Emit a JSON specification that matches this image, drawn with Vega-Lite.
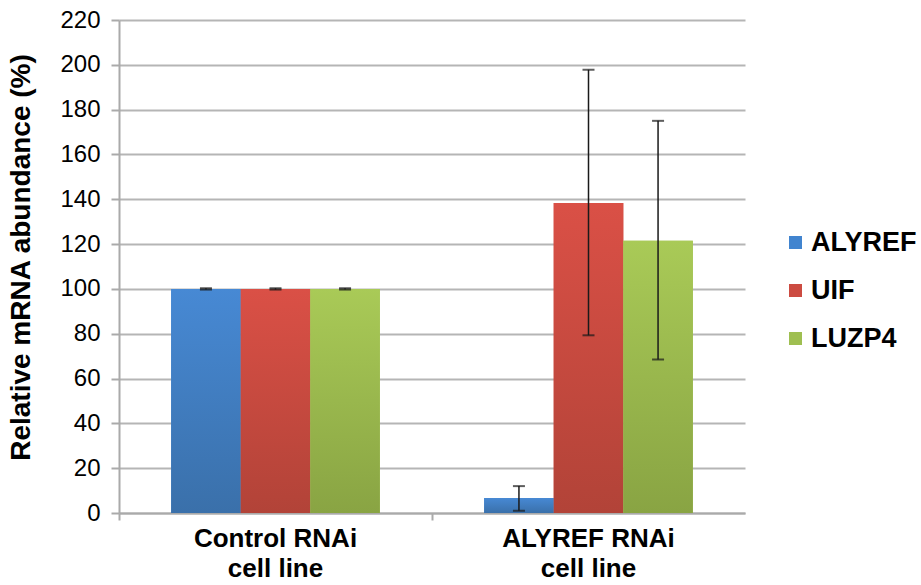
{
  "$schema": "https://vega.github.io/schema/vega-lite/v6.json",
  "autosize": "none",
  "width": 626,
  "height": 493,
  "padding": {"left": 119, "top": 20, "right": 176, "bottom": 72},
  "background": "white",
  "config": {
    "font": "Liberation Sans",
    "view": {"stroke": null}
  },
  "data": {
    "values": [
      {"group": "Control RNAi", "gene": "ALYREF", "value": 100, "lo": 99.7, "hi": 100.3},
      {"group": "Control RNAi", "gene": "UIF", "value": 100, "lo": 99.7, "hi": 100.3},
      {"group": "Control RNAi", "gene": "LUZP4", "value": 100, "lo": 99.7, "hi": 100.3},
      {"group": "ALYREF RNAi", "gene": "ALYREF", "value": 6.7, "lo": 1, "hi": 12},
      {"group": "ALYREF RNAi", "gene": "UIF", "value": 138.3, "lo": 79.3, "hi": 197.8},
      {"group": "ALYREF RNAi", "gene": "LUZP4", "value": 121.5, "lo": 68.5, "hi": 175}
    ]
  },
  "encoding": {
    "x": {
      "field": "group",
      "type": "nominal",
      "sort": ["Control RNAi", "ALYREF RNAi"],
      "scale": {"paddingInner": 0, "paddingOuter": 0},
      "axis": {
        "title": null,
        "labelAngle": 0,
        "labelFont": "Liberation Sans",
        "labelFontSize": 26,
        "labelFontWeight": "bold",
        "labelColor": "#000000",
        "labelExpr": "[datum.label, 'cell line']",
        "labelLineHeight": 30,
        "labelPadding": 5,
        "bandPosition": 0,
        "ticks": true,
        "tickSize": 7,
        "tickColor": "#aaaaaa",
        "tickWidth": 2,
        "domainColor": "#aaaaaa",
        "domainWidth": 2,
        "grid": false
      }
    },
    "xOffset": {
      "field": "gene",
      "type": "nominal",
      "sort": ["ALYREF", "UIF", "LUZP4"],
      "scale": {"paddingInner": 0, "paddingOuter": 0.75}
    }
  },
  "layer": [
    {
      "mark": {"type": "bar"},
      "encoding": {
        "y": {
          "field": "value",
          "type": "quantitative",
          "scale": {"domain": [0, 220], "nice": false},
          "axis": {
            "title": "Relative mRNA abundance (%)",
            "titleFont": "Liberation Sans",
            "titleFontSize": 28,
            "titleFontWeight": "bold",
            "titleColor": "#000000",
            "titlePadding": 24,
            "titleY": 237,
            "values": [0, 20, 40, 60, 80, 100, 120, 140, 160, 180, 200, 220],
            "labelFont": "Liberation Sans",
            "labelFontSize": 24,
            "labelColor": "#000000",
            "labelPadding": 11,
            "tickSize": 8,
            "tickColor": "#aaaaaa",
            "tickWidth": 2,
            "domainColor": "#aaaaaa",
            "domainWidth": 2,
            "grid": true,
            "gridColor": "#b5b5b5",
            "gridWidth": 2
          }
        },
        "color": {
          "field": "gene",
          "type": "nominal",
          "sort": ["ALYREF", "UIF", "LUZP4"],
          "scale": {
            "domain": ["ALYREF", "UIF", "LUZP4"],
            "range": ["#4184cf", "#cc4b41", "#9fbf51"]
          },
          "legend": {
            "title": null,
            "orient": "none",
            "legendX": 663,
            "legendY": 209,
            "symbolType": "square",
            "symbolSize": 169,
            "symbolStrokeWidth": 0,
            "labelFont": "Liberation Sans",
            "labelFontSize": 27,
            "labelFontWeight": "bold",
            "labelColor": "#000000",
            "labelOffset": 2,
            "rowPadding": 20
          }
        }
      }
    },
    {
      "mark": {"type": "bar"},
      "encoding": {
        "y": {"field": "value", "type": "quantitative"},
        "fill": {
          "condition": [
            {
              "test": "datum.gene === 'ALYREF'",
              "value": {
                "gradient": "linear", "x1": 0, "y1": 0, "x2": 0, "y2": 1,
                "stops": [{"offset": 0, "color": "#4789d4"}, {"offset": 1, "color": "#3a70aa"}]
              }
            },
            {
              "test": "datum.gene === 'UIF'",
              "value": {
                "gradient": "linear", "x1": 0, "y1": 0, "x2": 0, "y2": 1,
                "stops": [{"offset": 0, "color": "#da5046"}, {"offset": 1, "color": "#b24338"}]
              }
            }
          ],
          "value": {
            "gradient": "linear", "x1": 0, "y1": 0, "x2": 0, "y2": 1,
            "stops": [{"offset": 0, "color": "#a9ca57"}, {"offset": 1, "color": "#89a443"}]
          }
        }
      }
    },
    {
      "mark": {"type": "rule", "color": "#1a1a1a", "strokeWidth": 1.5},
      "encoding": {
        "y": {"field": "lo", "type": "quantitative"},
        "y2": {"field": "hi"}
      }
    },
    {
      "mark": {"type": "tick", "color": "#1a1a1a", "size": 12, "thickness": 2},
      "encoding": {
        "y": {"field": "hi", "type": "quantitative"}
      }
    },
    {
      "mark": {"type": "tick", "color": "#1a1a1a", "size": 12, "thickness": 2},
      "encoding": {
        "y": {"field": "lo", "type": "quantitative"}
      }
    }
  ]
}
